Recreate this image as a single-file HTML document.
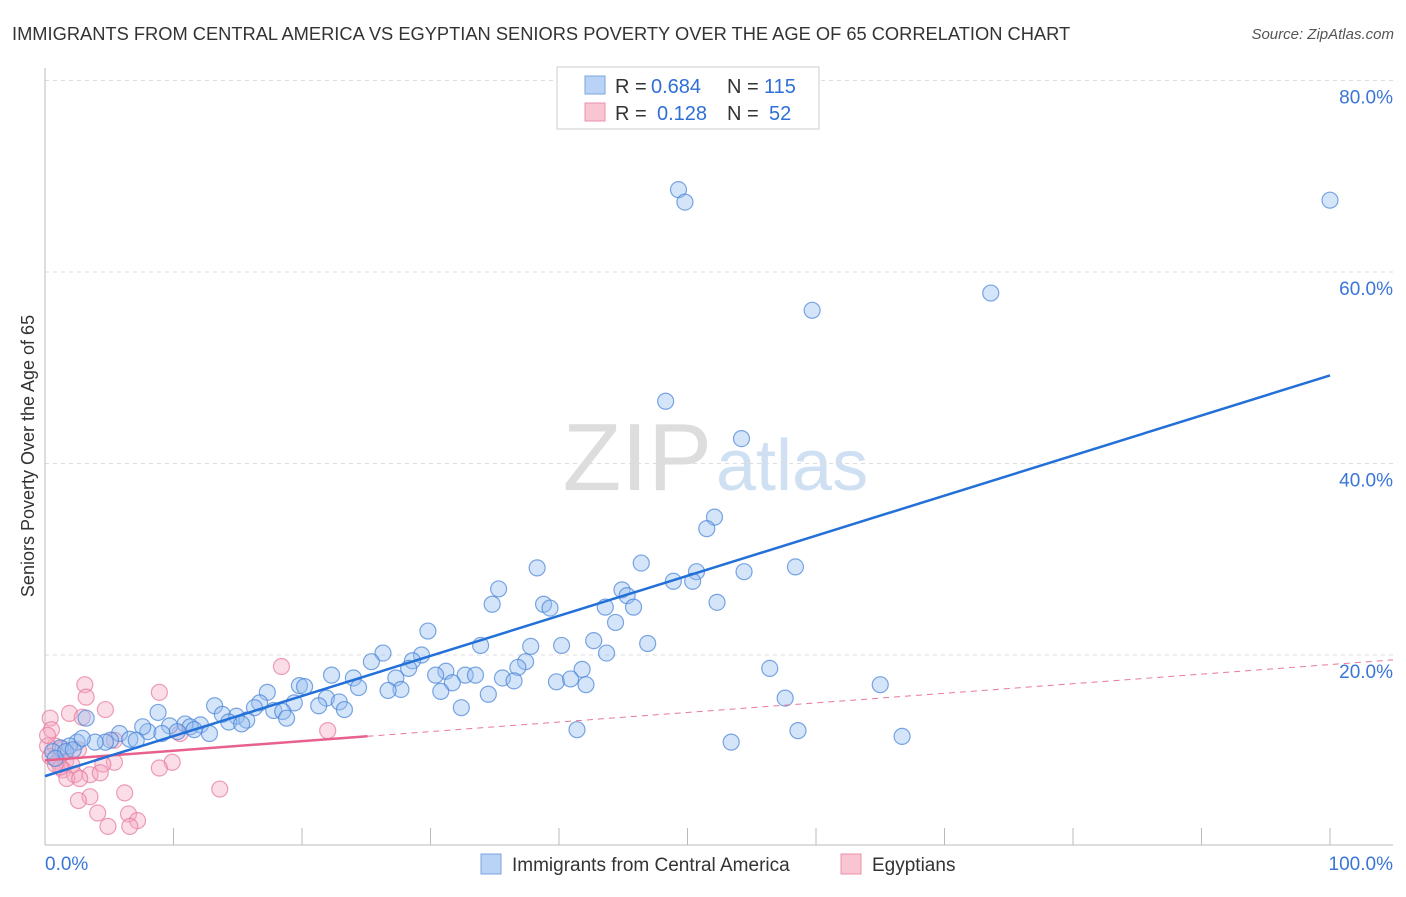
<!DOCTYPE html>
<html><head><meta charset="utf-8"><style>
body{margin:0;background:#fff;font-family:"Liberation Sans",sans-serif;}
svg text{font-family:"Liberation Sans",sans-serif;}
</style></head><body>
<svg id="chart" width="1406" height="892" xmlns="http://www.w3.org/2000/svg">
<text x="12" y="40" font-size="18.3" fill="#333">IMMIGRANTS FROM CENTRAL AMERICA VS EGYPTIAN SENIORS POVERTY OVER THE AGE OF 65 CORRELATION CHART</text>
<text x="1394" y="39" font-size="15" fill="#555" font-style="italic" text-anchor="end">Source: ZipAtlas.com</text>
<text x="34" y="456" font-size="18" fill="#333" text-anchor="middle" transform="rotate(-90 34 456)">Seniors Poverty Over the Age of 65</text>
<text x="712" y="490" font-size="96" fill="#ddd" text-anchor="end" font-family="Liberation Serif">ZIP</text>
<text x="716" y="490" font-size="72" fill="#cfe0f3">atlas</text>
<g id="grid"></g><g id="axes"></g><g id="pts"></g><g id="trend"></g>
<g>
<rect x="557" y="67" width="262" height="62" fill="#fff" stroke="#ccc"/>
<rect x="585" y="76" width="20" height="18" fill="#b8d3f5" stroke="#7aa6e0"/>
<rect x="585" y="103" width="20" height="18" fill="#f9c5d3" stroke="#ec8fab"/>
<text x="615" y="93" font-size="20" fill="#333">R =</text>
<text x="651" y="93" font-size="20" fill="#2f6fd6">0.684</text>
<text x="727" y="93" font-size="20" fill="#333">N =</text>
<text x="764" y="93" font-size="20" fill="#2f6fd6">115</text>
<text x="615" y="120" font-size="20" fill="#333">R =</text>
<text x="657" y="120" font-size="20" fill="#2f6fd6">0.128</text>
<text x="727" y="120" font-size="20" fill="#333">N =</text>
<text x="769" y="120" font-size="20" fill="#2f6fd6">52</text>
</g>
<g>
<rect x="481" y="854" width="20" height="20" fill="#b8d3f5" stroke="#7aa6e0"/>
<text x="512" y="871" font-size="19" fill="#333">Immigrants from Central America</text>
<rect x="841" y="854" width="20" height="20" fill="#f9c5d3" stroke="#ec8fab"/>
<text x="872" y="871" font-size="19" fill="#333">Egyptians</text>
</g>
</svg>
<script>
const yTicks=[20,40,60,80];
const yTickLabels=["20.0%","40.0%","60.0%","80.0%"];
const xTickVals=[0,10,20,30,40,50,60,70,80,90,100];
const blueX=[49.3,49.8,100,73.6,59.7,48.3,54.2,52.1,51.5,46.4,38.3,58.4,54.4,50.7,48.9,50.4,35.3,44.9,45.3,34.8,38.8,39.3,43.6,45.8,52.3,44.4,29.8,42.7,33.9,37.8,40.2,46.9,43.7,26.3,29.3,25.4,28.6,37.4,36.8,28.3,41.8,56.4,31.2,30.4,22.3,32.7,33.5,24.0,27.3,35.6,36.5,31.7,39.8,40.9,42.1,65.0,19.8,20.2,24.4,27.7,26.7,30.8,17.3,34.5,57.6,21.9,16.7,19.4,22.9,21.3,13.2,16.3,23.3,32.4,17.8,18.5,13.8,14.9,8.8,18.8,15.7,14.3,15.3,10.9,12.1,9.7,11.3,12.8,11.6,10.3,8.0,7.6,9.1,41.4,58.6,66.7,53.4,5.8,6.6,5.1,4.7,3.9,3.2,2.5,1.9,1.2,0.6,1.6,0.8,2.2,2.9,7.1];
const blueY=[68.6,67.3,67.5,57.8,56.0,46.5,42.6,34.4,33.2,29.6,29.1,29.2,28.7,28.7,27.7,27.7,26.9,26.8,26.2,25.3,25.3,24.9,25.0,25.0,25.5,23.4,22.5,21.5,21.0,20.9,21.0,21.2,20.2,20.2,20.0,19.3,19.4,19.3,18.7,18.6,18.5,18.6,18.3,17.9,17.9,17.9,17.9,17.6,17.6,17.6,17.3,17.1,17.2,17.5,16.9,16.9,16.8,16.7,16.6,16.4,16.3,16.2,16.1,15.9,15.5,15.5,15.0,15.0,15.1,14.7,14.7,14.5,14.3,14.5,14.2,14.1,13.8,13.6,14.0,13.4,13.2,13.0,12.8,12.8,12.7,12.6,12.5,11.8,12.2,12.0,12.0,12.5,11.8,12.2,12.1,11.5,10.9,11.8,11.2,11.1,10.9,10.9,13.4,10.9,10.5,10.3,9.9,9.9,9.2,10.1,11.3,11.1];
const pinkX=[18.4,3.1,3.2,8.9,4.7,1.9,2.9,0.4,0.5,22.0,10.5,5.4,0.8,0.2,1.4,2.6,0.4,1.0,1.6,2.1,5.4,4.5,9.9,8.9,1.4,2.3,1.7,3.5,4.3,2.7,13.6,6.2,3.5,2.6,4.1,6.5,7.2,4.9,6.6,1.2,0.2,0.8];
const pinkY=[18.8,16.9,15.6,16.1,14.3,13.9,13.5,13.4,12.2,12.1,11.8,11.1,10.5,10.5,10.2,10.1,9.4,8.9,8.9,8.5,8.8,8.6,8.8,8.2,8.0,7.5,7.1,7.5,7.7,7.1,6.0,5.6,5.2,4.8,3.5,3.4,2.7,2.1,2.1,8.3,11.6,8.6];
const blueTrend=[7.35,49.2];
const pinkTrend=[9.0,19.0];
const pinkSolidEnd=25.1;
const NS="http://www.w3.org/2000/svg";
const X=v=>45+v*12.85, Y=v=>846.5-v*9.575;
function mk(t,a,p){const e=document.createElementNS(NS,t);for(const k in a)e.setAttribute(k,a[k]);p.appendChild(e);return e;}
const grid=document.getElementById('grid'),axes=document.getElementById('axes'),pts=document.getElementById('pts'),tr=document.getElementById('trend');
yTicks.forEach((v,i)=>{
 const l=mk('line',{x1:45,x2:1393,y1:Y(v),y2:Y(v),stroke:'#ddd','stroke-dasharray':'4,4'},grid);
 
 
 const t=mk('text',{x:1393,y:Y(v)+23,'font-size':19,fill:'#3a76d8','text-anchor':'end'},grid);t.textContent=yTickLabels[i];
 
 
});
mk('line',{x1:45,x2:45,y1:68,y2:845,stroke:'#bbb'},axes);
mk('line',{x1:45,x2:1393,y1:845,y2:845,stroke:'#bbb'},axes);
xTickVals.forEach(v=>{const l=mk('line',{x1:X(v),x2:X(v),y1:828,y2:845,stroke:'#bbb'},axes);
 
 });
let t0=mk('text',{x:45,y:870,'font-size':19,fill:'#3a76d8'},axes);t0.textContent='0.0%';


let t1=mk('text',{x:1393,y:870,'font-size':19,fill:'#3a76d8','text-anchor':'end'},axes);t1.textContent='100.0%';


pinkX.forEach((x,i)=>{const c=mk('circle',{cx:X(x),cy:Y(pinkY[i]),r:8,fill:'rgba(246,170,195,0.4)',stroke:'rgba(230,120,155,0.7)','stroke-width':1.2},pts);
 
 });
blueX.forEach((x,i)=>{const c=mk('circle',{cx:X(x),cy:Y(blueY[i]),r:8,fill:'rgba(150,190,240,0.4)',stroke:'rgba(70,130,215,0.7)','stroke-width':1.2},pts);
 
 });
const pAt=x=>pinkTrend[0]+(pinkTrend[1]-pinkTrend[0])*x/100;
let d=mk('line',{x1:X(pinkSolidEnd),y1:Y(pAt(pinkSolidEnd)),x2:1393,y2:Y(pAt(104.9)),stroke:'#e8789c','stroke-width':1,'stroke-dasharray':'6,5'},tr);


let s=mk('line',{x1:X(0),y1:Y(pinkTrend[0]),x2:X(pinkSolidEnd),y2:Y(pAt(pinkSolidEnd)),stroke:'#e8608c','stroke-width':2.5},tr);


let b=mk('line',{x1:X(0),y1:Y(blueTrend[0]),x2:X(100),y2:Y(blueTrend[1]),stroke:'#2270d8','stroke-width':2.5},tr);


</script>
</body></html>
